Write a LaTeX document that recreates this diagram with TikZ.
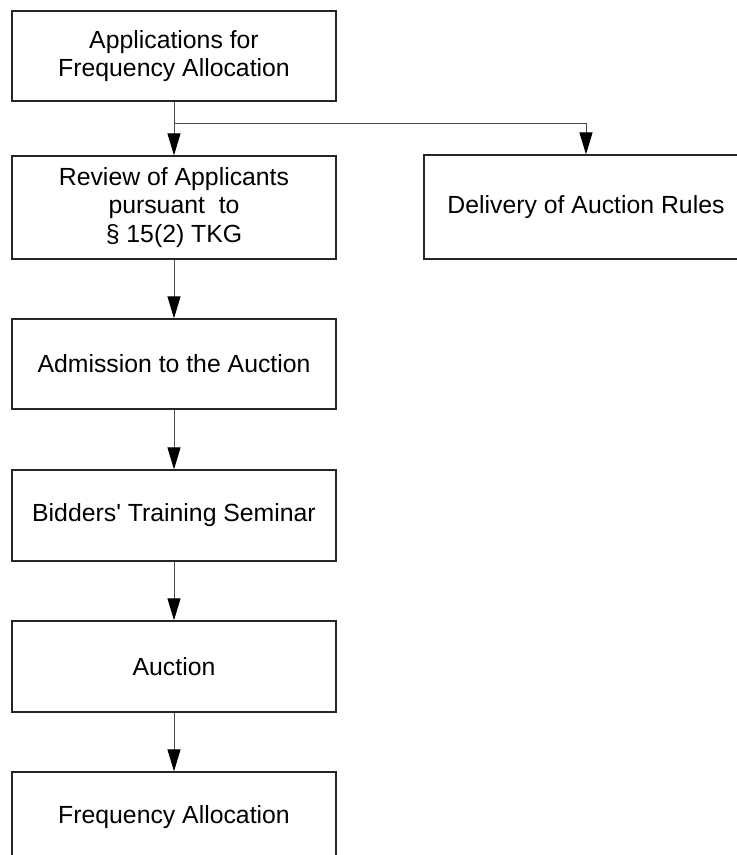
\documentclass[tikz,border=0pt]{standalone}
\usepackage{fontspec}
\setmainfont{Liberation Sans}
\usetikzlibrary{arrows.meta}
\begin{document}
\begin{tikzpicture}[x=1pt,y=-1pt,
  box/.style={draw=black!85, line width=1.3pt, minimum width=324pt, inner sep=0pt,
    align=center, font=\fontsize{24.8}{28.5}\selectfont},
  conn/.style={draw=black!70, line width=1pt,
    -{Triangle[length=22pt,width=13pt,fill=black,color=black]}},
  plain/.style={draw=black!70, line width=1pt}]
\path[use as bounding box] (0,0) rectangle (737,855);
\clip (0,0) rectangle (737,855);
\node[box, minimum height=90pt]  (app)  at (174,56)   {Applications for\\Frequency Allocation};
\node[box, minimum height=103pt] (rev)  at (174,207.5) {Review of Applicants\\pursuant\ \ to\\\S\ 15(2) TKG};
\node[box, minimum height=104pt] (del)  at (586,207)  {Delivery of Auction Rules};
\node[box, minimum height=90pt]  (adm)  at (174,364)  {Admission to the Auction};
\node[box, minimum height=91pt]  (bid)  at (174,515.5) {Bidders\textquotesingle\ Training Seminar};
\node[box, minimum height=91pt]  (auc)  at (174,666.5) {Auction};
\node[box, minimum height=91pt]  (frq)  at (174,817.5) {Frequency Allocation};
\coordinate (br) at (174,123);
\coordinate (brr) at (586,123);
\draw[conn] (app.south) -- (rev.north);
\draw[plain] (br) -- (brr);
\draw[conn] (brr) -- (del.north);
\draw[conn] (rev.south) -- (adm.north);
\draw[conn] (adm.south) -- (bid.north);
\draw[conn] (bid.south) -- (auc.north);
\draw[conn] (auc.south) -- (frq.north);
\end{tikzpicture}
\end{document}
